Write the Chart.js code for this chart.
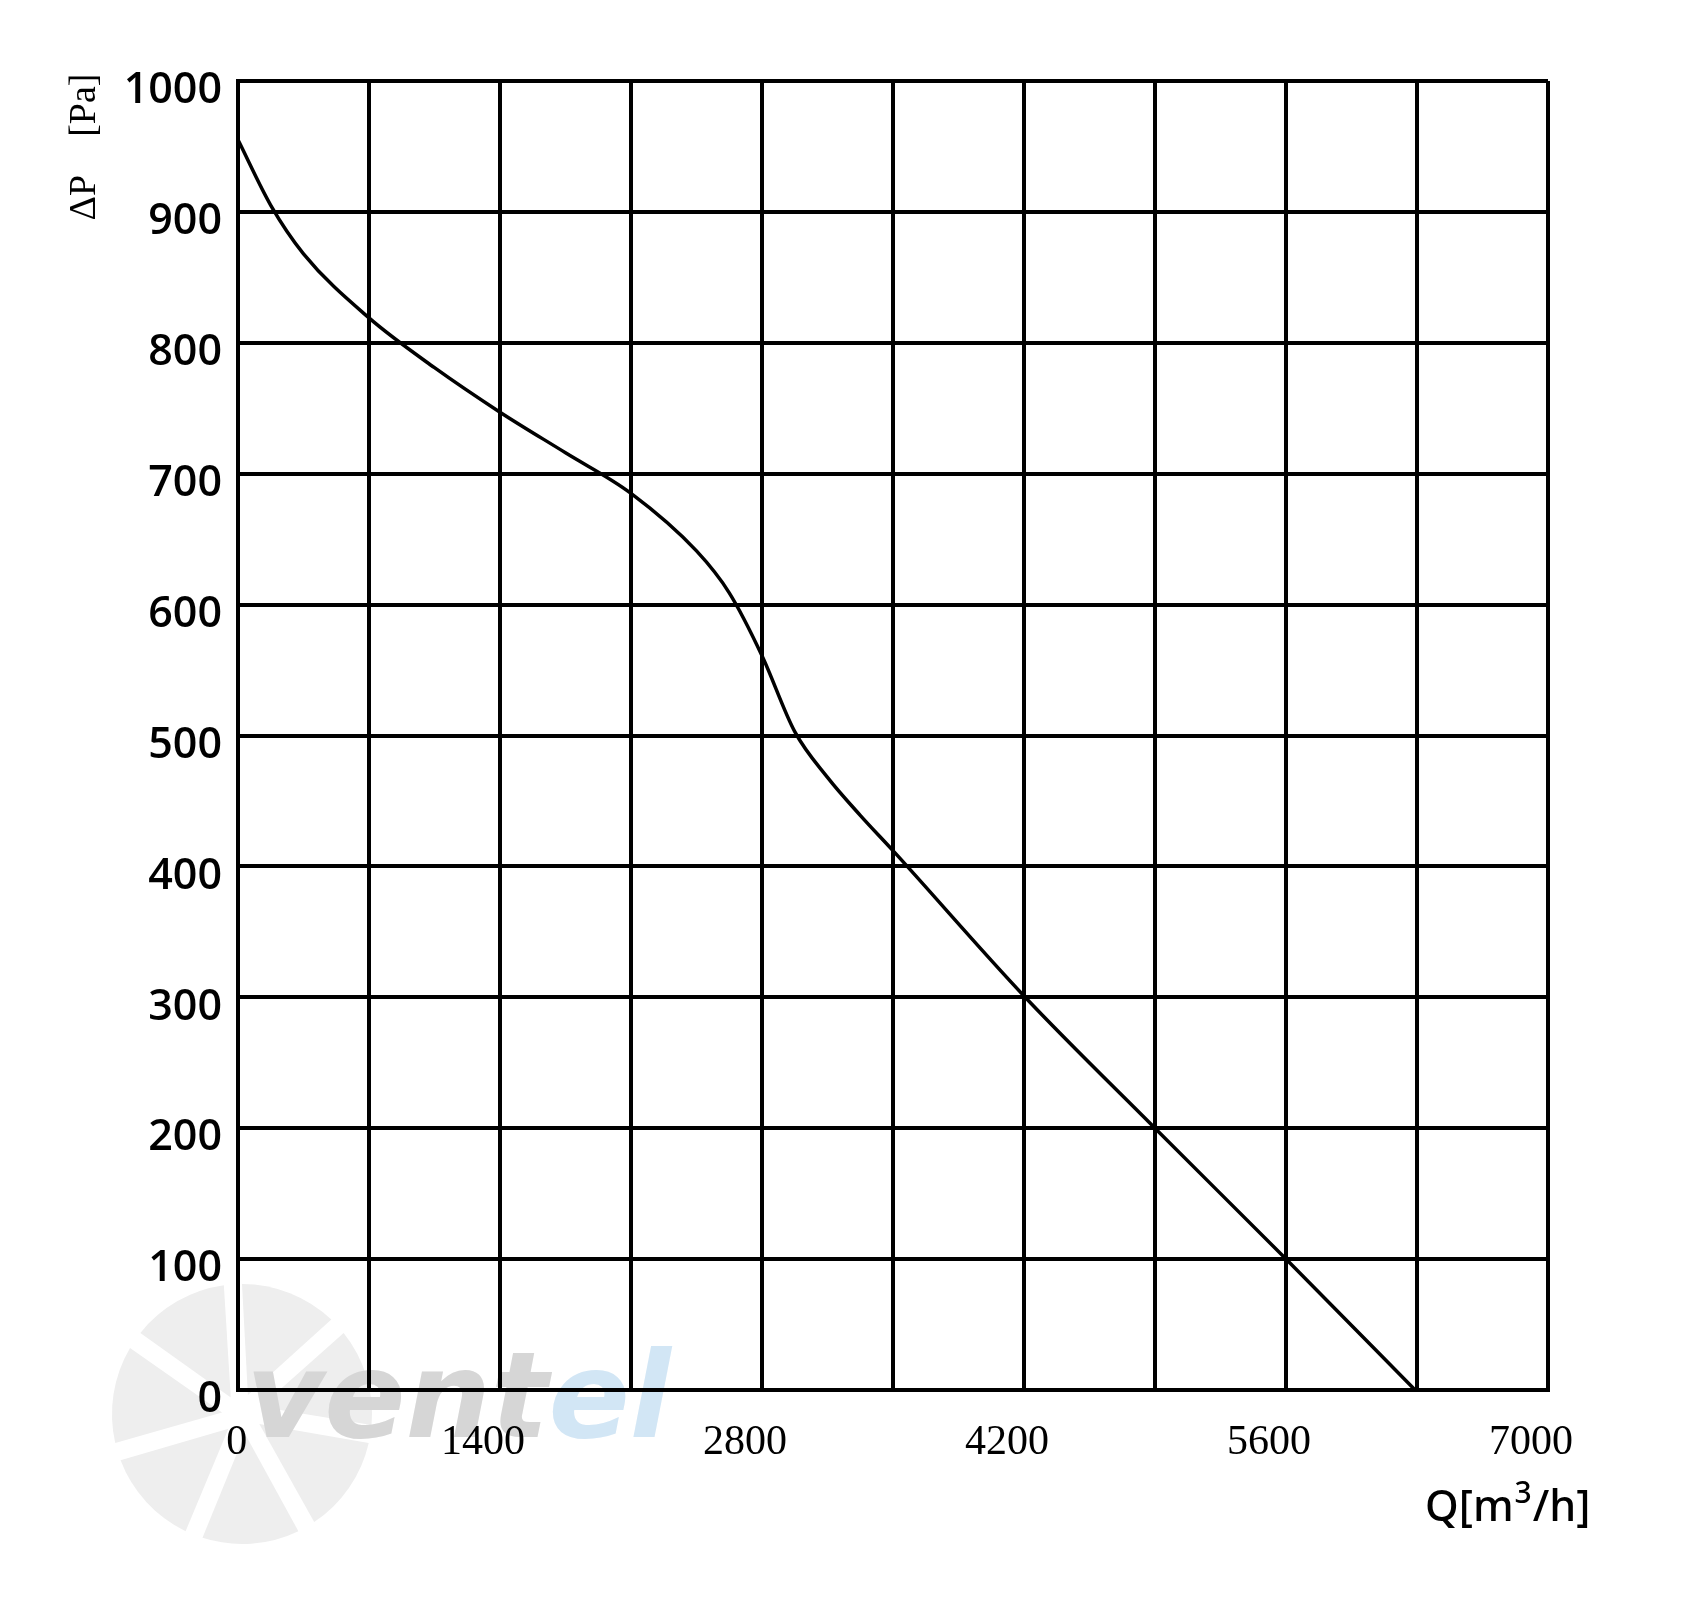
<!DOCTYPE html>
<html>
<head>
<meta charset="utf-8">
<title>Fan curve ΔP / Q</title>
<script src="https://cdn.jsdelivr.net/npm/chart.js@4.4.1/dist/chart.umd.min.js"></script>
<style>
    html, body { margin: 0; padding: 0; background: #ffffff; }
    #wrap { width: 1696px; height: 1602px; position: relative; }
</style>
</head>
<body>
<div id="wrap"><canvas id="fanChart"></canvas></div>
<script>
// Airflow Q [m3/h] and static pressure ΔP [Pa]
const flowValues = [0, 175, 350, 700, 1050, 1400, 1750, 2100, 2450, 2625, 2800, 2975, 3150, 3325, 3500, 4200, 4900, 5600, 6290];
const pressureValues = [955, 905, 868, 819, 781, 747, 716, 685, 641, 609, 561, 503, 468, 439, 412, 301, 200, 100, 0];

// Axis ranges and labelled ticks
const flowTicks = [0, 1400, 2800, 4200, 5600, 7000];
const pressureTicks = [0, 100, 200, 300, 400, 500, 600, 700, 800, 900, 1000];

const GRID = '#000000';

/**
 * Faint brand watermark behind the grid (fan + lettering)
 */
const watermarkPlugin = {
    id: 'watermark',
    beforeDraw(chart) {
        const ctx = chart.ctx;
        ctx.save();
        // fan blades
        const cx = 242, cy = 1414, r = 130;
        const blades = 7;
        ctx.fillStyle = '#eeeeee';
        for (let i = 0; i < blades; i++) {
            const a0 = -Math.PI / 2 + i * 2 * Math.PI / blades;
            const a1 = a0 + 2 * Math.PI / blades - 0.14;
            ctx.beginPath();
            ctx.moveTo(cx + Math.cos(a0 + 0.3) * 20, cy + Math.sin(a0 + 0.3) * 20);
            ctx.arc(cx, cy, r, a0, a1);
            ctx.closePath();
            ctx.fill();
        }
        // lettering
        ctx.font = 'italic bold 120px "DejaVu Sans"';
        ctx.textBaseline = 'alphabetic';
        ctx.fillStyle = '#d6d6d6';
        ctx.fillText('vent', 246, 1437);
        const w = ctx.measureText('vent').width;
        ctx.fillStyle = '#d2e6f5';
        ctx.fillText('el', 246 + w, 1437);
        ctx.restore();
    }
};

/**
 * Axis titles drawn by hand so they sit where the reference puts them
 */
const axisTitlesPlugin = {
    id: 'axisTitles',
    afterDraw(chart) {
        const ctx = chart.ctx;
        ctx.save();
        ctx.fillStyle = '#000';

        // Y title, rotated
        ctx.translate(95, 147);
        ctx.rotate(-Math.PI / 2);
        ctx.font = '38px "Liberation Serif"';
        ctx.textAlign = 'center';
        ctx.textBaseline = 'alphabetic';
        ctx.fillText('ΔP    [Pa]', 0, 0);
        ctx.setTransform(1, 0, 0, 1, 0, 0);

        // X title Q[m3/h] with raised 3
        const big = '500 43px "Noto Sans"';
        const small = '500 30px "Noto Sans"';
        const base = 1521;
        let x = 1425;
        ctx.textAlign = 'left';
        ctx.font = big;
        ctx.fillText('Q[m', x, base);
        x += ctx.measureText('Q[m').width;
        ctx.font = small;
        ctx.fillText('3', x + 1, base - 18);
        x += ctx.measureText('3').width + 2;
        ctx.font = big;
        ctx.fillText('/h]', x, base);
        ctx.restore();
    }
};

const curve = flowValues.map((q, i) => ({ x: q, y: pressureValues[i] }));

new Chart(document.getElementById('fanChart'), {
    type: 'line',
    data: {
        datasets: [{
            label: 'ΔP',
            data: curve,
            borderColor: '#000',
            borderWidth: 3.5,
            pointRadius: 0,
            fill: false,
            cubicInterpolationMode: 'monotone'
        }]
    },
    options: {
        responsive: true,
        maintainAspectRatio: false,
        animation: false,
        layout: { padding: { left: 0, top: 81, right: 148, bottom: 0 } },
        plugins: {
            legend: { display: false },
            tooltip: { enabled: false }
        },
        scales: {
            x: {
                type: 'linear',
                min: flowTicks[0],
                max: flowTicks[flowTicks.length - 1],
                afterBuildTicks: scale => {
                    // gridline every 700, label every 1400
                    const t = [];
                    for (let v = flowTicks[0]; v <= flowTicks[flowTicks.length - 1]; v += 700) t.push({ value: v });
                    scale.ticks = t;
                },
                afterFit: scale => { scale.height = 212; },
                grid: { color: GRID, lineWidth: 4, drawTicks: false },
                border: { display: true, color: GRID, width: 4 },
                ticks: {
                    autoSkip: false,
                    maxRotation: 0,
                    padding: 28,
                    labelOffset: -17,
                    color: '#000',
                    font: { family: '"Liberation Serif"', size: 42 },
                    // the "0" label sits right under the axis origin
                    callback: v => v === 0 ? '\u2007 0' : (flowTicks.includes(v) ? String(v) : '')
                }
            },
            y: {
                type: 'linear',
                min: pressureTicks[0],
                max: pressureTicks[pressureTicks.length - 1],
                afterBuildTicks: scale => {
                    scale.ticks = pressureTicks.map(v => ({ value: v }));
                },
                afterFit: scale => { scale.width = 238; },
                grid: { color: GRID, lineWidth: 4, drawTicks: false },
                border: { display: true, color: GRID, width: 4 },
                ticks: {
                    padding: 16,
                    labelOffset: 10,
                    color: '#000',
                    font: { family: '"Open Sans"', size: 43, weight: '600' },
                    callback: v => String(v)
                }
            }
        }
    },
    plugins: [watermarkPlugin, axisTitlesPlugin]
});
</script>
</body>
</html>
